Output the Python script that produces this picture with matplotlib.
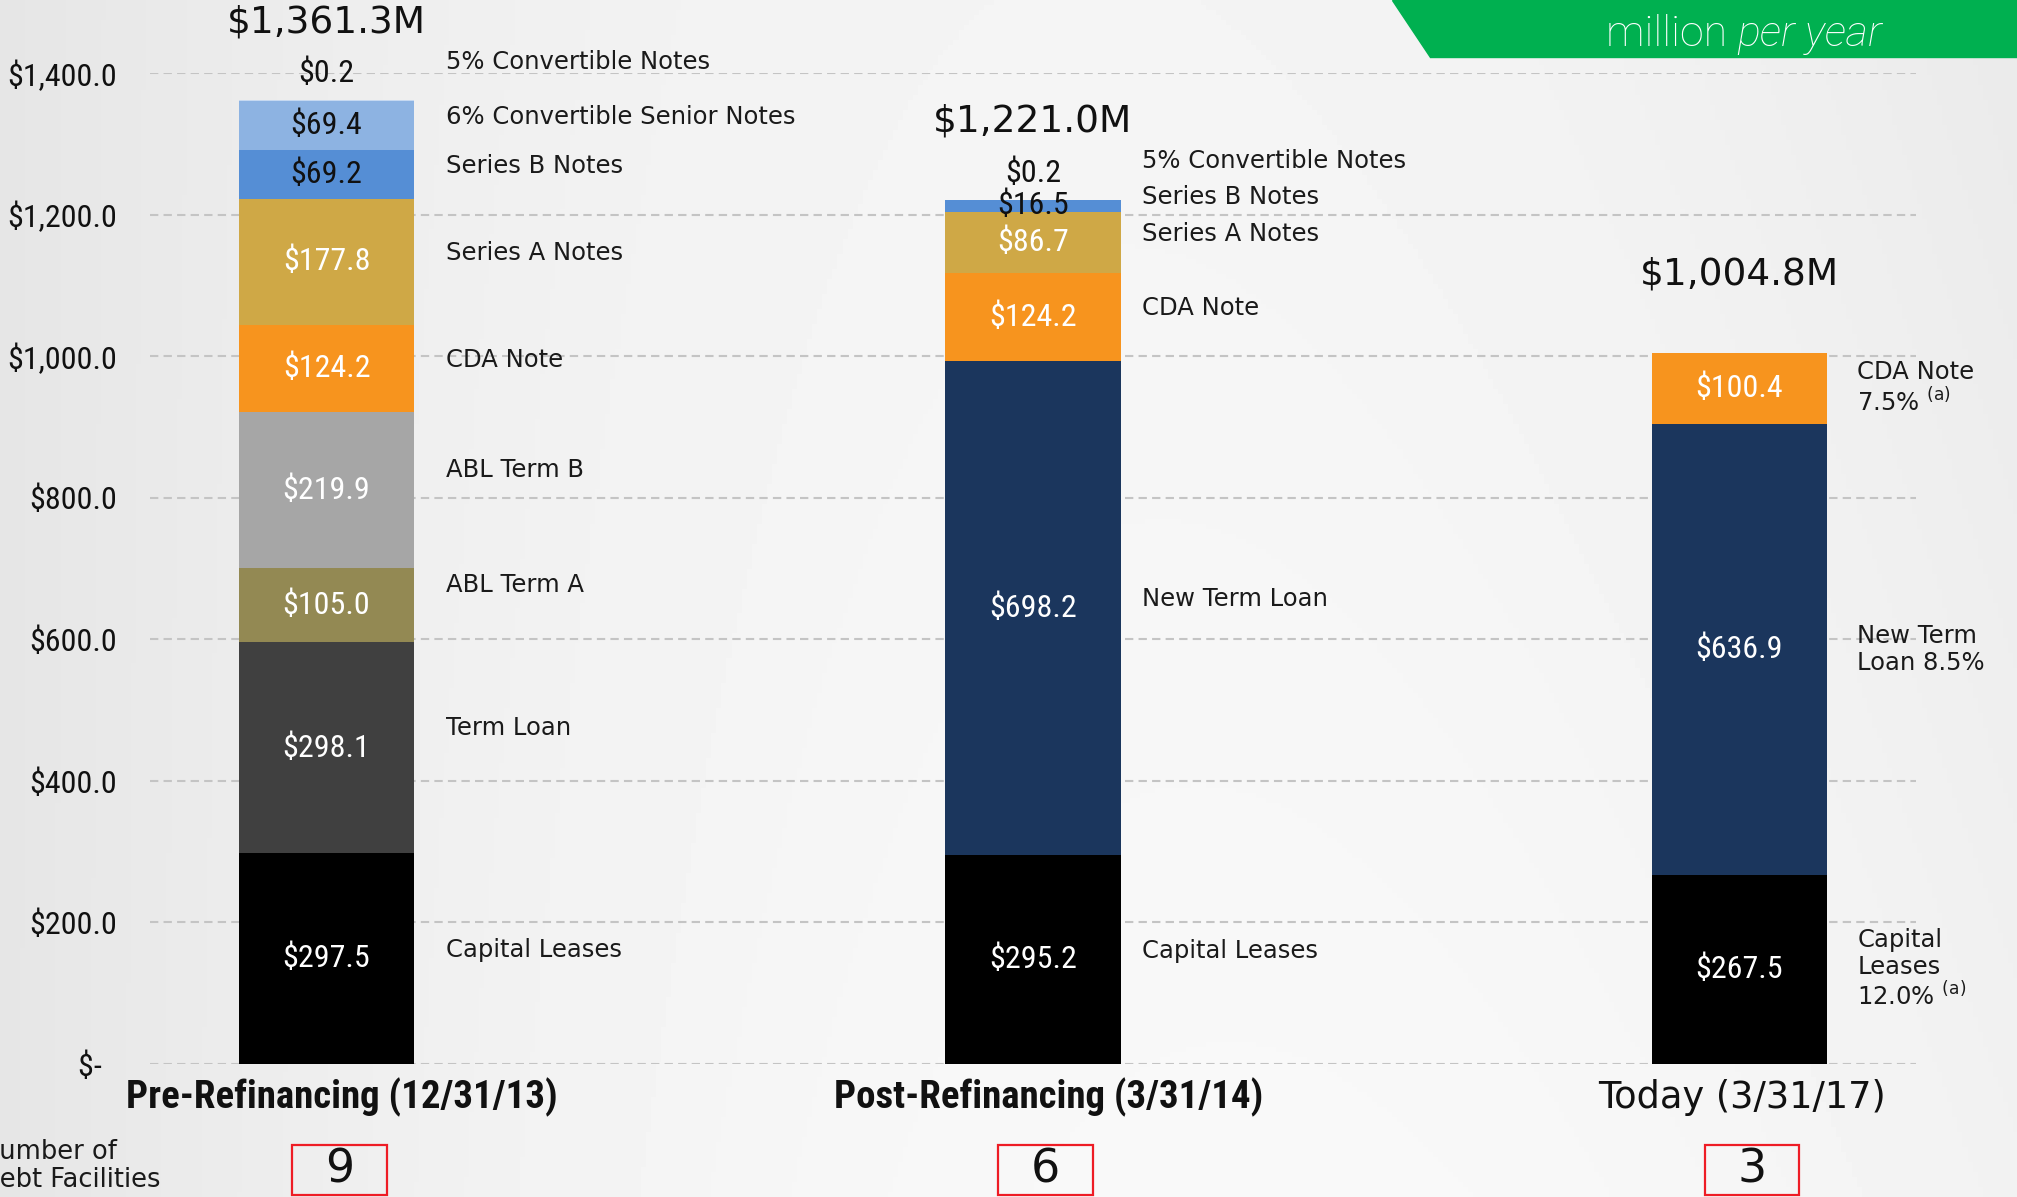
import numpy as np
import matplotlib.pyplot as plt
from matplotlib.patches import Polygon, Rectangle

# データ
segments = ['Capital Leases', 'Term Loan', 'ABL Term A', 'ABL Term B', 'New Term Loan',
            'CDA Note', 'Series A Notes', 'Series B Notes',
            '6% Convertible Senior Notes', '5% Convertible Notes']
pre_vals = [297.5, 298.1, 105.0, 219.9, 0.0, 124.2, 177.8, 69.2, 69.4, 0.2]
post_vals = [295.2, 0.0, 0.0, 0.0, 698.2, 124.2, 86.7, 16.5, 0.0, 0.2]
today_vals = [267.5, 0.0, 0.0, 0.0, 636.9, 100.4, 0.0, 0.0, 0.0, 0.0]
periods = ['Pre-Refinancing (12/31/13)', 'Post-Refinancing (3/31/14)', 'Today (3/31/17)']
facilities = [9, 6, 3]
today_names = {'CDA Note': 'CDA Note\n7.5% $^{\\mathrm{(a)}}$',
               'New Term Loan': 'New Term\nLoan 8.5%',
               'Capital Leases': 'Capital\nLeases\n12.0% $^{\\mathrm{(a)}}$'}
yticks = [0, 200, 400, 600, 800, 1000, 1200, 1400]

# スタイル
colors = {'Capital Leases': '#000000', 'Term Loan': '#404040', 'ABL Term A': '#938953',
          'ABL Term B': '#A6A6A6', 'New Term Loan': '#1B365D', 'CDA Note': '#F7941E',
          'Series A Notes': '#CFA846', 'Series B Notes': '#558ED5',
          '6% Convertible Senior Notes': '#8DB3E2', '5% Convertible Notes': '#C6D9F1'}
dark_text = ['Series B Notes', '6% Convertible Senior Notes', '5% Convertible Notes']
NARROW = ['Roboto Condensed', 'Liberation Sans', 'DejaVu Sans']
WIDE = ['DejaVu Sans']
plt.rcParams['mathtext.fontset'] = 'dejavusans'

W, H = 2017, 1197
fig = plt.figure(figsize=(W / 100, H / 100), dpi=100)

# 背景のグラデーション
bg = fig.add_axes([0, 0, 1, 1], zorder=-10)
gx, gy = np.meshgrid(np.linspace(0, 1, 400), np.linspace(0, 1, 240))
shade = 0.975 - 0.075 * ((gx - 0.62) / 0.62) ** 2 - 0.03 * gx * (1 - gy)
bg.imshow(shade, cmap='gray', vmin=0, vmax=1, aspect='auto', extent=[0, 1, 0, 1])
bg.axis('off')

ax = fig.add_axes([150 / W, 1 - 1064 / H, 1766 / W, 991 / H])
ax.set_facecolor('none')
ax.set_xlim(-0.25, 2.25)
ax.set_ylim(0, 1400)
for s in ax.spines.values():
    s.set_visible(False)
ax.set_xticks([])
ax.set_yticks(yticks)
ax.set_yticklabels(['$-  ' if v == 0 else '${:,.1f}'.format(v) for v in yticks],
                   family=NARROW, fontsize=23, color='#111111')
ax.tick_params(axis='y', length=0, pad=24)
ax.yaxis.grid(True, color='#C4C4C4', lw=1.5, ls=(0, (4, 2.5)))
ax.set_axisbelow(True)

bw = 0.248
label_dx = [0.045, 0.031, 0.043]
lab_kw = dict(family=WIDE, fontsize=17.5, color='#1a1a1a')
for i, vals in enumerate([pre_vals, post_vals, today_vals]):
    bottom = 0.0
    for name, v in zip(segments, vals):
        if v <= 0:
            continue
        ax.bar(i, v, bw, bottom=bottom, color=colors[name], zorder=3)
        mid = bottom + v / 2
        tc = '#111111' if name in dark_text else 'white'
        if name == '5% Convertible Notes':
            ax.text(i, bottom + 38, '${:.1f}'.format(v), ha='center', va='center',
                    family=NARROW, fontsize=23, color='#111111', zorder=4)
            ax.text(i + bw / 2 + label_dx[i], bottom + 55, name, ha='left', va='center',
                    **lab_kw)
        else:
            ax.text(i, mid, '${:.1f}'.format(v), ha='center', va='center',
                    family=NARROW, fontsize=23, color=tc, zorder=4)
            if i == 2:
                ax.text(i + bw / 2 + label_dx[i], mid, today_names[name], ha='left',
                        va='center', linespacing=1.15, **lab_kw)
            else:
                off = 28 if name in ['Term Loan', 'ABL Term A', 'ABL Term B'] else 12
                ax.text(i + bw / 2 + label_dx[i], mid + off, name, ha='left',
                        va='center', **lab_kw)
        bottom += v
    # 合計
    ax.text(i, bottom + 110, '${:,.1f}M'.format(bottom), ha='center', va='center',
            family=WIDE, fontsize=27, color='#111111')
    # 期間ラベル
    if i < 2:
        ax.text(i + 0.022, -47, periods[i], ha='center', va='center', family=NARROW,
                fontweight='bold', fontsize=28, color='#111111', clip_on=False)
    else:
        ax.text(i + 0.004, -47, periods[i], ha='center', va='center', family=WIDE,
                fontsize=26.5, color='#111111', clip_on=False)
    # 債務件数
    ax.add_patch(Rectangle((i + 0.018 - 0.067, -185), 0.134, 71, fill=False,
                           ec='#EE1C25', lw=1.6, clip_on=False))
    ax.text(i + 0.018, -150, str(facilities[i]), ha='center', va='center',
            family=WIDE, fontsize=33, color='#111111', clip_on=False)

fig.text(-20 / W, 1 - 1166 / H, 'Number of\nDebt Facilities', ha='left', va='center',
         family=WIDE, fontsize=18.5, color='#1a1a1a', linespacing=1.1)

# 右上の緑のボックス
fig.patches.append(Polygon([(1392 / W, 1), (1, 1), (1, 1 - 57 / H), (1430 / W, 1 - 57 / H)],
                           closed=True, transform=fig.transFigure, color='#00B050',
                           zorder=5))
fig.text(1737 / W, 1 - 46 / H, 'million ', ha='right', va='baseline',
         family=['Roboto', 'DejaVu Sans'], fontweight='light', fontsize=31,
         color='white', zorder=6)
fig.text(1737 / W, 1 - 46 / H, 'per year', ha='left', va='baseline', style='italic',
         family=['Roboto', 'DejaVu Sans'], fontweight='light', fontsize=31,
         color='white', zorder=6)

fig.savefig('out.png', dpi=100)
